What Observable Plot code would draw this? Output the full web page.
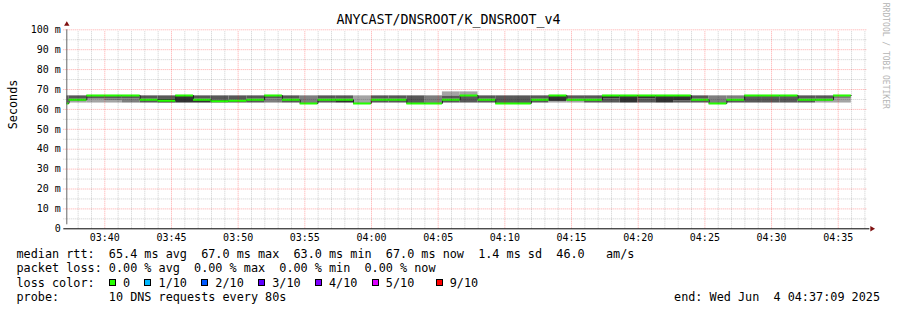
<!DOCTYPE html>
<html><head><meta charset="utf-8">
<script src="https://cdn.jsdelivr.net/npm/d3@7"></script>
<script src="https://cdn.jsdelivr.net/npm/@observablehq/plot@0.6"></script>
<style>
html,body{margin:0;padding:0;background:#fff;}
#wrap{position:relative;width:897px;height:310px;overflow:hidden;font-family:"DejaVu Sans Mono",monospace;color:#000;}
#title{position:absolute;left:0;top:11.5px;width:897px;text-align:center;font-size:13.3px;line-height:16px;}
#chart{position:absolute;left:0;top:0;}
.row{position:absolute;left:16.5px;font-size:11.8px;line-height:14px;white-space:pre;}
.box{position:absolute;top:3.6px;width:5px;height:5px;border:1px solid #000;}
#end{position:absolute;right:17px;font-size:11.8px;line-height:14px;white-space:pre;}
</style></head>
<body><div id="wrap"><div id="chart"></div><div id="title"></div><div id="legend"></div></div>
<script>
// ---- data ----
const titleText = "ANYCAST/DNSROOT/K_DNSROOT_v4";
const graphStartParts = [2025, 5, 4, 3, 37, 9];
const graphEndParts = [2025, 5, 4, 4, 37, 9];
const firstStepParts = [2025, 5, 4, 3, 35, 59];
const stepSeconds = 80;

// median rtt per 80 s step (ms)
const medians = [
  63.0, 64.8, 67.0, 67.0, 67.0, 64.8, 64.4, 67.0, 64.8, 64.1,
  64.3, 64.8, 67.0, 64.8, 63.0, 64.8, 64.8, 63.0, 64.8, 64.8,
  63.0, 63.0, 64.8, 67.0, 64.8, 63.0, 63.0, 64.8, 67.0, 64.8,
  64.8, 67.0, 67.0, 67.0, 67.0, 67.0, 64.8, 63.0, 64.8, 67.0,
  67.0, 67.0, 64.8, 64.8, 67.0
];
// the 10 individual DNS rtts per step (ms)
const pings = [
  [62.6,63,63,63,63,63,66.8,66.8,66.8,66.8],
  [63.2,63.2,64.2,64.2,64.6,65.2,66.8,66.8,66.8,66.8],
  [63.2,63.2,65.2,65.2,67,67,67,67,67,67],
  [63.2,63.2,64.2,65.2,67,67,67,67,67,67],
  [63.2,63.2,63.2,65.2,67,67,67,67,67,67],
  [63.2,63.2,63.2,63.2,64.6,65.2,66.8,66.8,66.8,66.8],
  [63.2,63.2,63.2,63.2,63.2,65.0,66.8,66.8,66.8,66.8],
  [63.2,63.2,63.2,63.2,63.2,67,67,67,67,67],
  [63.2,63.2,63.2,63.2,63.2,65.2,66.8,66.8,66.8,66.8],
  [63.2,63.2,63.2,63.2,64.0,64.8,66.8,66.8,66.8,66.8],
  [63.2,63.2,63.2,63.2,64.2,64.8,66.8,66.8,66.8,66.8],
  [63.2,63.2,63.2,63.2,64.6,65.2,66.8,66.8,66.8,66.8],
  [63.2,63.2,63.2,65.2,67,67,67,67,67,67],
  [63.2,63.2,63.2,63.2,64.6,65.2,66.8,66.8,66.8,66.8],
  [62.6,62.8,63,63,63,63,63,66.8,66.8,66.8],
  [63.2,63.2,63.2,63.2,64.6,65.2,66.8,66.8,66.8,66.8],
  [63.2,63.2,63.2,63.2,63.2,65.2,66.8,66.8,66.8,66.8],
  [62.6,62.8,63,63,63,63,63,63,66.8,66.8],
  [63.2,63.2,63.2,63.2,64.6,65.2,66.8,66.8,66.8,66.8],
  [63.2,63.2,63.2,63.2,64.6,65.2,66.8,66.8,66.8,66.8],
  [62.6,63,63,63,63,63,66.8,66.8,66.8,66.8],
  [62.6,62.8,63,63,63,63,63,66.8,66.8,66.8],
  [63.2,63.2,63.2,63.2,64.6,65.2,66.8,66.8,68.8,68.8],
  [63.2,63.2,63.2,63.2,67,67,67,67,68.8,68.8],
  [63.2,63.2,63.2,63.2,64.6,65.2,66.8,66.8,66.8,66.8],
  [62.6,63,63,63,63,63,66.8,66.8,66.8,66.8],
  [62.6,63,63,63,63,63,66.8,66.8,66.8,66.8],
  [63.2,63.2,63.2,63.2,64.6,65.2,66.8,66.8,66.8,66.8],
  [63.2,63.2,64,64,64,67,67,67,67,67],
  [63.2,63.2,64.2,64.2,64.6,65.2,66.8,66.8,66.8,66.8],
  [63.2,63.2,63.2,63.2,64.6,65.2,66.8,66.8,66.8,66.8],
  [63.2,63.2,63.2,63.2,65.2,67,67,67,67,67],
  [63.2,63.2,63.2,63.2,63.2,67,67,67,67,67],
  [63.2,63.2,63.2,63.2,65.2,67,67,67,67,67],
  [63.2,63.2,63.2,63.2,63.2,67,67,67,67,67],
  [63.2,63.2,63.2,63.2,64.2,67,67,67,67,67],
  [63.2,63.2,63.2,63.2,64.6,65.2,66.8,66.8,66.8,66.8],
  [62.6,62.8,63,63,63,63,63,66.8,66.8,66.8],
  [63.2,63.2,63.2,63.2,64.6,65.2,65.2,66.8,66.8,66.8],
  [63.2,63.2,63.2,63.2,67,67,67,67,67,67],
  [63.2,63.2,63.2,63.2,67,67,67,67,67,67],
  [63.2,63.2,63.2,63.2,67,67,67,67,67,67],
  [63.2,63.2,63.2,63.2,64.6,65.2,66.8,66.8,66.8,66.8],
  [63.2,63.2,64.2,64.2,64.6,65.2,66.8,66.8,66.8,66.8],
  [63.2,63.2,65.2,67,67,67,67,67,67,67]
];
const yTicks = [0, 10, 20, 30, 40, 50, 60, 70, 80, 90, 100];
const yMinorTicks = [5, 15, 25, 35, 45, 55, 65, 75, 85, 95];
const lossLabels = ["0", "1/10", "2/10", "3/10", "4/10", "5/10", "9/10"];
const lossColors = ["#26ff00", "#00b8ff", "#0059ff", "#5e00ff", "#7e00ff", "#dd00ff", "#ff0000"];
const statsLine = "median rtt:  65.4 ms avg  67.0 ms max  63.0 ms min  67.0 ms now  1.4 ms sd  46.0   am/s";
const lossLine = "packet loss: 0.00 % avg  0.00 % max  0.00 % min  0.00 % now";
const probeLine = "probe:       10 DNS requests every 80s";
const endLine = "end: Wed Jun  4 04:37:09 2025";
const smokeShades = ["#cacaca", "#a4a4a4", "#7e7e7e", "#585858", "#323232"];

// ---- build ----
const mk = p => new Date(p[0], p[1], p[2], p[3], p[4], p[5]);
const graphStart = mk(graphStartParts), graphEnd = mk(graphEndParts), firstStep = mk(firstStepParts);
const steps = medians.map((m, i) => ({
  x1: new Date(+firstStep + i * stepSeconds * 1000),
  x2: new Date(+firstStep + (i + 1) * stepSeconds * 1000),
  median: m, pings: pings[i]
}));
const bands = [];
steps.forEach(st => {
  const p = [...st.pings].sort((a, b) => a - b);
  for (let k = 1; k < p.length; k++) {
    if (p[k] > p[k - 1]) bands.push({x1: st.x1, x2: st.x2, y1: p[k - 1], y2: p[k], shade: smokeShades[Math.min(k, p.length - k) - 1]});
  }
});
const linePts = steps.map(s => ({x: s.x1, y: s.median})).concat([{x: steps[steps.length - 1].x2, y: steps[steps.length - 1].median}]);
const minuteTicks = d3.timeMinute.range(graphStart, graphEnd);
const fiveTicks = minuteTicks.filter(d => d.getMinutes() % 5 === 0);
const oneTicks = minuteTicks.filter(d => d.getMinutes() % 5 !== 0);

const chart = Plot.plot({
  width: 897, height: 245,
  marginLeft: 66.3, marginRight: 30.6, marginTop: 29.3, marginBottom: 16.7,
  style: {fontFamily: "DejaVu Sans Mono", fontSize: "10px", background: "transparent", color: "#000"},
  x: {type: "time", domain: [graphStart, graphEnd]},
  y: {domain: [0, 100]},
  marks: [
    Plot.rect(bands, {x1: "x1", x2: "x2", y1: "y1", y2: "y2", fill: "shade", clip: true}),
    Plot.line(linePts, {x: "x", y: "y", curve: "step-after", stroke: "#202020", strokeWidth: 1, clip: true}),
    Plot.ruleY(steps, {x1: "x1", x2: "x2", y: "median", stroke: lossColors[0], strokeWidth: 2, clip: true}),
    Plot.ruleY(yMinorTicks, {stroke: "#000", strokeOpacity: 0.2, strokeDasharray: "1,1", insetLeft: -3}),
    Plot.ruleY(yTicks.filter(d => d > 0), {stroke: "#ff0000", strokeOpacity: 0.35, strokeDasharray: "1,1", insetLeft: -3}),
    Plot.ruleX(oneTicks, {y1: 0, y2: 100, stroke: "#000", strokeOpacity: 0.2, strokeDasharray: "1,1", insetBottom: -2}),
    Plot.ruleX(fiveTicks, {y1: 0, y2: 100, stroke: "#ff0000", strokeOpacity: 0.35, strokeDasharray: "1,1", insetBottom: -2}),
    Plot.ruleX([{x: graphStart}], {x: "x", y1: 0, y2: 100, stroke: "#666", strokeWidth: 1, insetTop: -4}),
    Plot.ruleY([0], {stroke: "#000", strokeWidth: 1, insetLeft: -3, insetRight: -3}),
    Plot.dot([{x: graphStart, y: 100}], {x: "x", y: "y", dy: -5.5, symbol: "triangle2", r: 2.6, fill: "#7f1010", stroke: "none"}),
    Plot.dot([{x: graphEnd, y: 0}], {x: "x", y: "y", dx: 5, symbol: "triangle2", rotate: 90, r: 2.6, fill: "#7f1010", stroke: "none"}),
    Plot.axisY({ticks: yTicks, tickFormat: d => d === 0 ? "0" : `${d} m`, tickSize: 0, tickPadding: 6, label: null}),
    Plot.axisX({ticks: fiveTicks, tickFormat: d3.timeFormat("%H:%M"), tickSize: 0, tickPadding: 5, label: null}),
    Plot.text([{t: "Seconds"}], {text: "t", frameAnchor: "left", rotate: -90, dx: -54, fontSize: 11.8}),
    Plot.text([{t: "RRDTOOL / TOBI OETIKER"}], {text: "t", frameAnchor: "top-right", rotate: 90, textAnchor: "start", dx: 21.6, dy: -27, fontSize: 8, fill: "#b4b4b4"})
  ]
});
document.getElementById("chart").appendChild(chart);
document.getElementById("title").textContent = titleText;

// ---- legend ----
const legend = document.getElementById("legend");
const rowTops = [247.3, 261.3, 275.7, 289.7];
function addRow(text, top) {
  const d = document.createElement("div");
  d.className = "row"; d.style.top = top + "px"; d.textContent = text;
  legend.appendChild(d); return d;
}
addRow(statsLine, rowTops[0]);
addRow(lossLine, rowTops[1]);
let lossText = "loss color:  ";
const boxCols = [];
lossLabels.forEach((lab, i) => {
  if (i === lossLabels.length - 1) lossText += " ";
  boxCols.push(lossText.length);
  lossText += "  " + lab + "  ";
});
const lr = addRow(lossText.replace(/\s+$/, ""), rowTops[2]);
boxCols.forEach((c, i) => {
  const b = document.createElement("div");
  b.className = "box"; b.style.left = c + "ch"; b.style.background = lossColors[i];
  lr.appendChild(b);
});
addRow(probeLine, rowTops[3]);
const e = document.createElement("div");
e.id = "end"; e.style.top = rowTops[3] + "px"; e.textContent = endLine;
legend.appendChild(e);
</script></body></html>
